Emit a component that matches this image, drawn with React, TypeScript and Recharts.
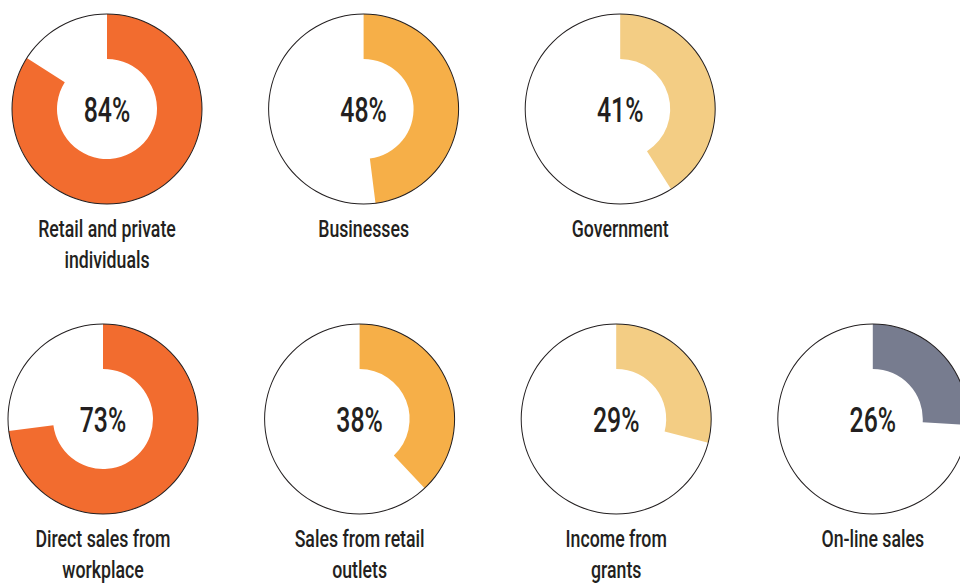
import { PieChart, Pie, Cell } from "recharts";

const topCategories = [["Retail and private", "individuals"], ["Businesses"], ["Government"]];
const topValues = [84, 48, 41];
const bottomCategories = [
  ["Direct sales from", "workplace"],
  ["Sales from retail", "outlets"],
  ["Income from", "grants"],
  ["On-line sales"],
];
const bottomValues = [73, 38, 29, 26];

const colors = ["#F26C2F", "#F6AF48", "#F3CD84", "#777C8F"];

const W = 960;
const H = 583;
const OUTER = 95;
const INNER = 50;
const STEP = 256.6;
const FONT = "Roboto, 'Noto Sans', sans-serif";
const INK = "#231F20";

type Donut = { lines: string[]; value: number; color: string; cx: number; cy: number };

const donuts: Donut[] = [
  ...topValues.map((v, i) => ({
    lines: topCategories[i],
    value: v,
    color: colors[i],
    cx: 107 + i * STEP,
    cy: 109,
  })),
  ...bottomValues.map((v, i) => ({
    lines: bottomCategories[i],
    value: v,
    color: colors[i],
    cx: 103 + i * STEP,
    cy: 419,
  })),
];

export default function App() {
  return (
    <div style={{ position: "absolute", left: 0, top: 0, width: W, height: H, background: "#fff" }}>
      <PieChart width={W} height={H} margin={{ top: 0, right: 0, bottom: 0, left: 0 }}>
        {/* white discs */}
        {donuts.map((d, i) => (
          <Pie
            key={`bg-${i}`}
            data={[{ v: 1 }]}
            dataKey="v"
            cx={d.cx}
            cy={d.cy}
            outerRadius={OUTER}
            innerRadius={0}
            startAngle={90}
            endAngle={-270}
            fill="#ffffff"
            stroke="none"
            isAnimationActive={false}
          />
        ))}
        {/* value arcs */}
        {donuts.map((d, i) => (
          <Pie
            key={`val-${i}`}
            data={[{ v: d.value }, { v: 100 - d.value }]}
            dataKey="v"
            cx={d.cx}
            cy={d.cy}
            outerRadius={OUTER}
            innerRadius={INNER}
            startAngle={90}
            endAngle={-270}
            stroke="none"
            isAnimationActive={false}
          >
            <Cell fill={d.color} />
            <Cell fill="transparent" />
          </Pie>
        ))}
        {/* thin outline ring */}
        {donuts.map((d, i) => (
          <Pie
            key={`ring-${i}`}
            data={[{ v: 1 }]}
            dataKey="v"
            cx={d.cx}
            cy={d.cy}
            outerRadius={OUTER + 0.5}
            innerRadius={OUTER - 0.5}
            startAngle={90}
            endAngle={-270}
            fill={INK}
            stroke="none"
            isAnimationActive={false}
          />
        ))}
      </PieChart>
      <svg width={W} height={H} style={{ position: "absolute", left: 0, top: 0, pointerEvents: "none" }}>
        {donuts.map((d, i) => (
          <g key={`t-${i}`}>
            <text
              transform={`translate(${d.cx},${d.cy + 13}) scale(0.71,1)`}
              textAnchor="middle"
              fontFamily={FONT}
              fontWeight={500}
              fontSize={35}
              fill={INK}
            >
              {`${d.value}%`}
            </text>
            {d.lines.map((line, j) => (
              <text
                key={j}
                transform={`translate(${d.cx},${d.cy + 128 + j * 31}) scale(0.77,1)`}
                textAnchor="middle"
                fontFamily={FONT}
                fontWeight={500}
                fontSize={23}
                fill={INK}
              >
                {line}
              </text>
            ))}
          </g>
        ))}
      </svg>
    </div>
  );
}
